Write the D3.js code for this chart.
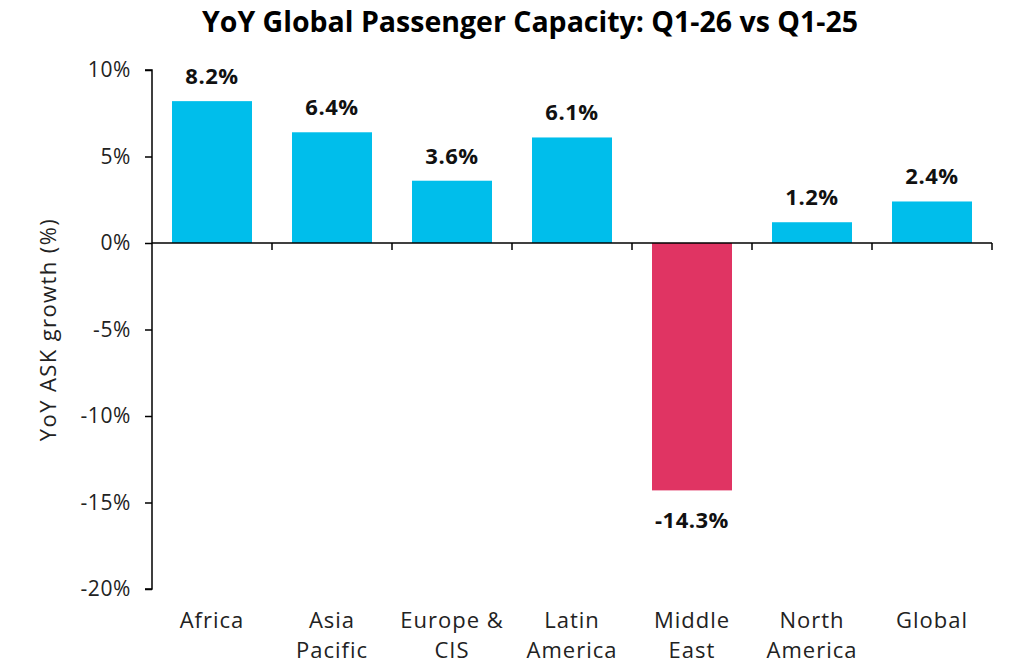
<!DOCTYPE html>
<html lang="en">
<head>
<meta charset="UTF-8">
<title>YoY Global Passenger Capacity</title>
<script src="https://d3js.org/d3.v7.min.js"></script>
<style>
    body { margin: 0; background: #fff; font-family: "Open Sans", Lato, sans-serif; }
    .title { font-size: 28.5px; font-weight: bold; fill: #000; }
    .tick text { font-size: 21px; fill: #222; font-family: "Open Sans", sans-serif; letter-spacing: 0.6px; }
    .value-label { font-size: 22px; font-weight: bold; fill: #111; letter-spacing: 0.5px; }
    .cat-label { font-size: 22px; fill: #222; letter-spacing: 1px; }
    .y-title { font-size: 22px; fill: #222; letter-spacing: 1.4px; }
</style>
</head>
<body>
<div id="chart"></div>
<script>
    const regions = ["Africa", "Asia Pacific", "Europe & CIS", "Latin America", "Middle East", "North America", "Global"];
    const regionLines = [["Africa"], ["Asia", "Pacific"], ["Europe &", "CIS"], ["Latin", "America"], ["Middle", "East"], ["North", "America"], ["Global"]];
    const growth = [8.2, 6.4, 3.6, 6.1, -14.3, 1.2, 2.4];
    const yTicks = [-20, -15, -10, -5, 0, 5, 10];

    const width = 1024, height = 664;
    const margin = { top: 70, right: 32, bottom: 75, left: 152 };

    const svg = d3.select("#chart").append("svg")
        .attr("width", width)
        .attr("height", height);

    const x = d3.scaleBand()
        .domain(regions)
        .range([margin.left, width - margin.right])
        .paddingInner(1 / 3)
        .paddingOuter(1 / 6);

    const y = d3.scaleLinear()
        .domain([-20, 10])
        .range([height - margin.bottom, margin.top]);

    svg.append("text")
        .attr("class", "title")
        .attr("x", 530)
        .attr("y", 32)
        .attr("text-anchor", "middle")
        .text("YoY Global Passenger Capacity: Q1-26 vs Q1-25");

    // y axis
    const yAxis = svg.append("g")
        .attr("transform", `translate(${margin.left},0)`)
        .call(d3.axisLeft(y).tickValues(yTicks).tickSize(7).tickPadding(14).tickFormat(d => d + "%"));
    yAxis.select(".domain").attr("stroke", "#000").attr("stroke-width", 1.5)
        .attr("d", `M${-7},${y(10)}H0V${y(-20)}H${-7}`);
    yAxis.selectAll(".tick line").attr("stroke", "#000").attr("stroke-width", 1.5);

    svg.append("text")
        .attr("class", "y-title")
        .attr("transform", `translate(56,${(y(10) + y(-20)) / 2}) rotate(-90)`)
        .attr("text-anchor", "middle")
        .text("YoY ASK growth (%)");

    // bars
    svg.selectAll(".bar")
        .data(growth)
        .enter()
        .append("rect")
        .attr("class", "bar")
        .attr("x", (d, i) => x(regions[i]))
        .attr("width", x.bandwidth())
        .attr("y", d => y(Math.max(0, d)))
        .attr("height", d => Math.abs(y(d) - y(0)))
        .attr("fill", d => d < 0 ? "#E03463" : "#00BEEB");

    svg.selectAll(".value-label")
        .data(growth)
        .enter()
        .append("text")
        .attr("class", "value-label")
        .attr("x", (d, i) => x(regions[i]) + x.bandwidth() / 2)
        .attr("y", d => d >= 0 ? y(d) - 17 : y(d) + 38)
        .attr("text-anchor", "middle")
        .text(d => d.toFixed(1) + "%");

    // zero axis with ticks at band edges
    const xEdges = regions.map(r => x(r) - x.step() * x.paddingInner() / 2).slice(1)
        .concat([width - margin.right]);
    svg.append("line")
        .attr("x1", margin.left).attr("x2", width - margin.right)
        .attr("y1", y(0)).attr("y2", y(0))
        .attr("stroke", "#000").attr("stroke-width", 1.5);
    svg.selectAll(".xtick")
        .data(xEdges)
        .enter()
        .append("line")
        .attr("x1", d => d).attr("x2", d => d)
        .attr("y1", y(0)).attr("y2", y(0) + 7)
        .attr("stroke", "#000").attr("stroke-width", 1.5);

    // category labels
    const cats = svg.selectAll(".cat-label")
        .data(regionLines)
        .enter()
        .append("text")
        .attr("class", "cat-label")
        .attr("text-anchor", "middle")
        .attr("x", (d, i) => x(regions[i]) + x.bandwidth() / 2)
        .attr("y", 628);
    cats.selectAll("tspan")
        .data(d => d)
        .enter()
        .append("tspan")
        .attr("x", function () { return d3.select(this.parentNode).attr("x"); })
        .attr("dy", (d, i) => i === 0 ? 0 : 30)
        .text(d => d);
</script>
</body>
</html>
